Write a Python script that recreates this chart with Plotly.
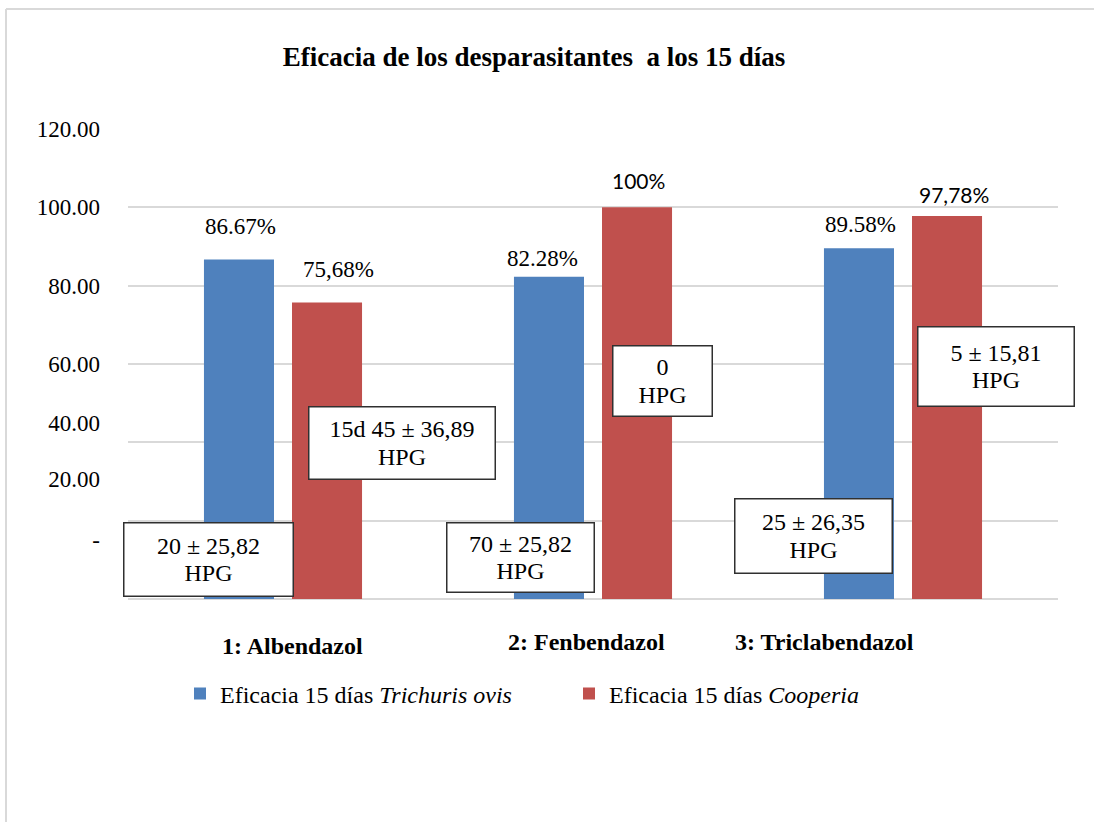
import plotly.graph_objects as go

# ---------------- data ----------------
categories = ["1: Albendazol", "2: Fenbendazol", "3: Triclabendazol"]
series_names = ["Eficacia 15 días <i>Trichuris ovis</i>", "Eficacia 15 días <i>Cooperia</i>"]
trichuris = [86.67, 82.28, 89.58]
cooperia = [75.68, 100.0, 97.78]
trichuris_labels = ["86.67%", "82.28%", "89.58%"]
cooperia_labels = ["75,68%", "100%", "97,78%"]
hpg_trichuris = [("20 ± 25,82", "HPG"), ("70 ± 25,82", "HPG"), ("25 ± 26,35", "HPG")]
hpg_cooperia = [("15d 45 ± 36,89", "HPG"), ("0", "HPG"), ("5 ± 15,81", "HPG")]
ytick_text = ["-", "20.00", "40.00", "60.00", "80.00", "100.00", "120.00"]
title_text = "Eficacia de los desparasitantes  a los 15 días"

# ---------------- layout helpers ----------------
W, H = 1094, 822
L, R, T, B = 128, 36, 129, 223
PW, PH = W - L - R, H - T - B

def px(x):
    return (x - L) / PW

def py(y):
    return (H - B - y) / PH

SERIF = "Liberation Serif, Times New Roman, serif"
SANS = "Lato, Carlito, Calibri, sans-serif"
BLUE = "#4F81BD"
RED = "#C0504D"
GRID = "#D9D9D9"

# tick label placement (as drawn in the reference)
ytick_label_pos = [15.1, 30.6, 45.0, 60.0, 80.0, 100.0, 120.0]

fig = go.Figure()
fig.add_trace(go.Bar(x=categories, y=trichuris, name=series_names[0],
                     marker=dict(color=BLUE, line=dict(width=0))))
fig.add_trace(go.Bar(x=categories, y=cooperia, name=series_names[1],
                     marker=dict(color=RED, line=dict(width=0))))
# invisible trace to carry the secondary axis used for tick labels
fig.add_trace(go.Scatter(x=categories, y=trichuris, yaxis="y2", mode="markers",
                         marker=dict(opacity=0), showlegend=False, hoverinfo="skip"))

annotations = []

# value labels above bars
lab_style_t = [dict(dx=1, dy=33.5, fam=SERIF, size=23),
               dict(dx=-6.5, dy=18, fam=SERIF, size=23),
               dict(dx=1, dy=23.5, fam=SERIF, size=23)]
lab_style_c = [dict(dx=11, dy=33, fam=SERIF, size=23),
               dict(dx=1, dy=27, fam=SANS, size=21),
               dict(dx=7, dy=21.5, fam=SANS, size=21)]
for cat, v, t, st in zip(categories, trichuris, trichuris_labels, lab_style_t):
    annotations.append(dict(x=cat, y=v, xref="x", yref="y", text=t, showarrow=False,
                            xshift=-44 + st["dx"], yshift=st["dy"], yanchor="middle",
                            font=dict(family=st["fam"], size=st["size"], color="#000")))
for cat, v, t, st in zip(categories, cooperia, cooperia_labels, lab_style_c):
    annotations.append(dict(x=cat, y=v, xref="x", yref="y", text=t, showarrow=False,
                            xshift=44 + st["dx"], yshift=st["dy"], yanchor="middle",
                            font=dict(family=st["fam"], size=st["size"], color="#000")))

# HPG text boxes (center x, center y, width, height in pixels)
box_t = [(208.5, 559.5, 171, 75), (520, 557, 149, 71), (813.5, 536, 159, 76)]
box_c = [(402, 443, 188, 74), (662.5, 381, 101, 72), (996, 366.5, 158, 81)]
BOX_GLYPH = 24      # glyph size inside the boxes
BOX_LINE = 20.8     # base size -> tighter line spacing like the reference
for texts, boxes in ((hpg_trichuris, box_t), (hpg_cooperia, box_c)):
    for (l1, l2), (cx, cy, bw, bh) in zip(texts, boxes):
        txt = (f'<span style="font-size:{BOX_GLYPH}px">{l1}</span><br>'
               f'<span style="font-size:{BOX_GLYPH}px">{l2}</span>')
        annotations.append(dict(x=px(cx), y=py(cy), xref="paper", yref="paper", text=txt,
                                showarrow=False, xanchor="center", yanchor="middle",
                                width=bw - 3, height=bh - 3, borderpad=0, borderwidth=1.5,
                                bordercolor="#303030", bgcolor="white", align="center",
                                valign="middle",
                                font=dict(family=SERIF, size=BOX_LINE, color="#000")))

# category labels
cat_style = [dict(dx=9, y=646), dict(dx=-7, y=642), dict(dx=-79, y=642)]
for cat, st in zip(categories, cat_style):
    annotations.append(dict(x=cat, y=py(st["y"]), xref="x", yref="paper", text=cat,
                            showarrow=False, xshift=st["dx"], yanchor="middle",
                            font=dict(family=SERIF, size=24, color="#000", weight="bold")))

# outer chart frame (only left and top edges are visible in the reference)
frame = [
    dict(type="line", xref="paper", yref="paper", x0=px(6), x1=px(6), y0=py(9), y1=py(830),
         line=dict(color=GRID, width=2), layer="below"),
    dict(type="line", xref="paper", yref="paper", x0=px(6), x1=px(1100), y0=py(9), y1=py(9),
         line=dict(color=GRID, width=2), layer="below"),
]

fig.update_layout(
    width=W, height=H, autosize=False,
    margin=dict(l=L, r=R, t=T, b=B, pad=0),
    paper_bgcolor="white", plot_bgcolor="white",
    title=dict(text=title_text, x=px(534), xref="paper", xanchor="center",
               y=1 - 57 / H, yref="container", yanchor="middle",
               font=dict(family=SERIF, size=27, color="#000", weight="bold")),
    barmode="group", bargap=0.432, bargroupgap=0.2045,
    xaxis=dict(showticklabels=False, showgrid=False, zeroline=False, showline=False,
               ticks=""),
    yaxis=dict(range=[0, 120], dtick=20, tick0=0, showgrid=True, gridcolor=GRID,
               gridwidth=1.5, zeroline=True, zerolinecolor=GRID, zerolinewidth=1.5,
               showticklabels=False, ticks="", showline=False),
    yaxis2=dict(range=[0, 120], overlaying="y", side="left", anchor="x",
                tickmode="array", tickvals=ytick_label_pos, ticktext=ytick_text,
                showgrid=False, zeroline=False, showline=False, ticks="",
                ticklabelstandoff=27,
                tickfont=dict(family=SERIF, size=23, color="#000")),
    legend=dict(orientation="h", x=px(180), xanchor="left", y=py(694), yanchor="middle",
                font=dict(family=SERIF, size=24, color="#000"),
                entrywidth=344, entrywidthmode="pixels", bgcolor="rgba(0,0,0,0)",
                itemclick=False, itemdoubleclick=False),
    annotations=annotations,
    shapes=frame,
    showlegend=True,
)

fig.write_html("out.html",
               config={"displayModeBar": False},
               post_script="document.body.style.margin='0px';document.body.style.overflow='hidden';")
